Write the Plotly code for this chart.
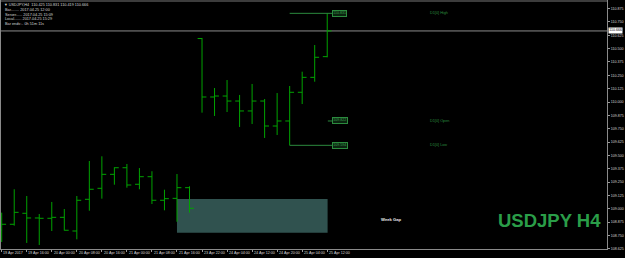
import plotly.graph_objects as go

# ---------------- data ----------------
bar_index = list(range(27))
bar_times = ["19 Apr 08:00", "19 Apr 12:00", "19 Apr 16:00", "19 Apr 20:00",
             "20 Apr 00:00", "20 Apr 04:00", "20 Apr 08:00", "20 Apr 12:00",
             "20 Apr 16:00", "20 Apr 20:00", "21 Apr 00:00", "21 Apr 04:00",
             "21 Apr 08:00", "21 Apr 12:00", "21 Apr 16:00", "21 Apr 20:00",
             "23 Apr 22:00", "24 Apr 00:00", "24 Apr 04:00", "24 Apr 08:00",
             "24 Apr 12:00", "24 Apr 16:00", "24 Apr 20:00", "25 Apr 00:00",
             "25 Apr 04:00", "25 Apr 08:00", "25 Apr 12:00"]
opens = [108.800, 108.854, 108.957, 108.913, 108.910, 108.919, 108.791, 109.088,
         109.191, 109.322, 109.384, 109.229, 109.300, 109.079, 109.097, 109.197,
         110.595, 110.047, 110.056, 110.009, 109.916, 110.009, 109.775, 109.822,
         110.091, 110.231, 110.425]
highs = [108.963, 109.182, 109.119, 108.950, 109.063, 108.997, 109.119, 109.447,
         109.491, 109.388, 109.419, 109.381, 109.351, 109.178, 109.325, 109.210,
         110.600, 110.131, 110.206, 110.066, 110.169, 110.028, 110.084, 110.150,
         110.284, 110.534, 110.831]
lows = [108.688, 108.841, 108.679, 108.660, 108.791, 108.796, 108.713, 108.981,
        109.094, 109.225, 109.197, 109.182, 109.044, 108.985, 108.878, 108.963,
        109.900, 109.869, 109.906, 109.766, 109.794, 109.663, 109.691, 109.594,
        109.981, 110.190, 110.419]
closes = [108.854, 108.966, 108.913, 108.910, 108.919, 108.798, 109.079, 109.182,
          109.322, 109.384, 109.222, 109.300, 109.079, 109.094, 109.197, 109.004,
          110.047, 110.056, 110.009, 109.916, 110.009, 109.775, 109.822, 110.091,
          110.231, 110.419, 110.666]

x_tick_index = [0, 2, 4, 6, 8, 10, 12, 14, 16, 18, 20, 22, 24, 26]
x_tick_labels = ["19 Apr 2017", "19 Apr 16:00", "20 Apr 00:00", "20 Apr 08:00",
                 "20 Apr 16:00", "21 Apr 00:00", "21 Apr 08:00", "21 Apr 16:00",
                 "23 Apr 22:00", "24 Apr 04:00", "24 Apr 12:00", "24 Apr 20:00",
                 "25 Apr 04:00", "25 Apr 12:00"]
y_ticks = [110.875, 110.750, 110.625, 110.500, 110.375, 110.250, 110.125, 110.000,
           109.875, 109.750, 109.625, 109.500, 109.375, 109.250, 109.125, 109.000,
           108.875, 108.750, 108.625]

d1_names = ["D1[0] High", "D1[0] Open", "D1[0] Low"]
d1_values = [110.831, 109.822, 109.594]
current_price = 110.666
gap_start_index, gap_end_index = 14, 26
gap_top, gap_bottom = 109.091, 108.775

info_lines = ["Bar........ 2017.04.25 12:00",
              "Server...... 2017.04.25 15:09",
              "Local....... 2017.04.25 15:29",
              "Bar ends:.. 0h 51m 11s"]

# ---------------- style ----------------
W, H = 625, 258
ML, MR, MT, MB = 1, 18, 1, 9
PW, PH = W - ML - MR, H - MT - MB
BAR_PX = 12.52
X0 = -0.7 / BAR_PX
x_range = [X0, X0 + PW / BAR_PX]
y_range = [108.6223, 110.9466]

GREEN = "#00a300"
DGREEN = "#2b8a3e"
TXT = "#d6d6d6"
FONT = "Liberation Sans, Arial, sans-serif"

def pyp(ypx):
    # pixel y (from top of window) -> paper coord
    return (H - MB - ypx) / PH

fig = go.Figure()

fig.add_trace(go.Ohlc(
    x=bar_index, open=opens, high=highs, low=lows, close=closes,
    text=bar_times, hoverinfo="text",
    increasing=dict(line=dict(color=GREEN, width=1)),
    decreasing=dict(line=dict(color=GREEN, width=1)),
    tickwidth=0.35, showlegend=False,
))

shapes = []
# week gap box
shapes.append(dict(type="rect", xref="x", yref="y",
                   x0=gap_start_index, x1=gap_end_index + 0.03,
                   y0=gap_bottom, y1=gap_top,
                   fillcolor="#30524f", line=dict(width=0), layer="below"))
# current price line
shapes.append(dict(type="line", xref="paper", yref="y", x0=0, x1=1,
                   y0=current_price, y1=current_price,
                   line=dict(color="#8c8c8c", width=1), layer="below"))
# D1 lines
day_start = 23
label_x = 26.38
shapes.append(dict(type="line", xref="x", yref="y", x0=day_start, x1=label_x,
                   y0=d1_values[0], y1=d1_values[0], line=dict(color=DGREEN, width=1)))
shapes.append(dict(type="line", xref="x", yref="y", x0=26.05, x1=label_x,
                   y0=d1_values[1], y1=d1_values[1], line=dict(color=DGREEN, width=1)))
shapes.append(dict(type="line", xref="x", yref="y", x0=day_start, x1=label_x,
                   y0=d1_values[2], y1=d1_values[2], line=dict(color=DGREEN, width=1)))
# top frame band
shapes.append(dict(type="line", xref="paper", yref="paper", x0=0, x1=1, y0=1, y1=1,
                   line=dict(color="#3c3c3c", width=2)))

annotations = []
# x-axis labels (left aligned to tick)
for i, lab in zip(x_tick_index, x_tick_labels):
    annotations.append(dict(x=i - 0.02, xref="x", y=pyp(253.5), yref="paper",
                            text=lab, showarrow=False, xanchor="left", yanchor="middle",
                            font=dict(family=FONT, size=3.7, color=TXT)))
# header
last = len(closes) - 1
header = "▼ USDJPY,H4  %.3f %.3f %.3f %.3f" % (opens[last], highs[last], lows[last], closes[last])
annotations.append(dict(x=(1.5 - ML) / PW, xref="paper", y=pyp(4.5), yref="paper",
                        text=header, showarrow=False, xanchor="left", yanchor="middle",
                        font=dict(family=FONT, size=3.8, color=TXT)))
for k, line in enumerate(info_lines):
    annotations.append(dict(x=(2.5 - ML) / PW, xref="paper", y=pyp(10 + 4.7 * k), yref="paper",
                            text=line, showarrow=False, xanchor="left", yanchor="middle",
                            font=dict(family=FONT, size=3.8, color=TXT)))
# D1 value boxes and names
for name, val in zip(d1_names, d1_values):
    annotations.append(dict(x=label_x, xref="x", y=val, yref="y",
                            text="%.3f" % val, showarrow=False, xanchor="left", yanchor="middle",
                            bgcolor="#0b2410", bordercolor=DGREEN, borderwidth=1, borderpad=0.3,
                            font=dict(family=FONT, size=3.6, color="#3aa04e")))
    annotations.append(dict(x=34.05, xref="x", y=val, yref="y",
                            text=name, showarrow=False, xanchor="left", yanchor="middle",
                            font=dict(family=FONT, size=3.8, color=DGREEN)))
# current price label on axis
annotations.append(dict(x=1, xref="paper", y=current_price, yref="y", xshift=1,
                        text="%.3f" % current_price, showarrow=False, xanchor="left", yanchor="middle",
                        bgcolor="#ffffff", borderpad=0.3,
                        font=dict(family=FONT, size=3.6, color="#000000")))
# week gap text
annotations.append(dict(x=30.1, xref="x", y=108.901, yref="y",
                        text="<b>Week Gap</b>", showarrow=False, xanchor="left", yanchor="middle",
                        font=dict(family=FONT, size=4.2, color="#e8e8e8")))
# symbol watermark
annotations.append(dict(x=48.0, xref="x", y=108.885, yref="y",
                        text="<b>USDJPY H4</b>", showarrow=False, xanchor="right", yanchor="middle",
                        font=dict(family=FONT, size=18.5, color="#2a9d48")))

fig.update_layout(
    width=W, height=H, margin=dict(l=ML, r=MR, t=MT, b=MB),
    paper_bgcolor="#000000", plot_bgcolor="#000000",
    shapes=shapes, annotations=annotations, showlegend=False,
    xaxis=dict(range=x_range, rangeslider=dict(visible=False), showgrid=False, zeroline=False,
               tickmode="array", tickvals=x_tick_index, ticktext=[""] * len(x_tick_index),
               ticks="outside", ticklen=2, tickcolor="#9a9a9a",
               showline=True, linecolor="#8a8a8a", linewidth=1, mirror=True),
    yaxis=dict(range=y_range, side="right", showgrid=False, zeroline=False,
               tickmode="array", tickvals=y_ticks, ticktext=["%.3f" % v for v in y_ticks],
               ticks="outside", ticklen=2, tickcolor="#9a9a9a",
               tickfont=dict(family=FONT, size=3.6, color=TXT),
               showline=True, linecolor="#8a8a8a", linewidth=1, mirror=True),
)

fig.write_html("out.html")
